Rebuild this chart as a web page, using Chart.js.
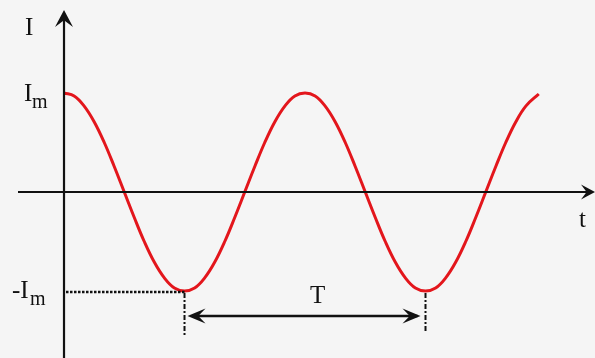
<!DOCTYPE html>
<html>
<head>
<meta charset="utf-8">
<script src="https://cdn.jsdelivr.net/npm/chart.js@4/dist/chart.umd.min.js"></script>
<style>
  html, body { margin: 0; padding: 0; background: #f5f5f5; }
  #wrap { width: 595px; height: 358px; }
</style>
</head>
<body>
<div id="wrap"><canvas id="c" width="595" height="358"></canvas></div>
<script>
// time in units of the period T
const tValues = [0, 0.042, 0.083, 0.125, 0.167, 0.208, 0.25, 0.292, 0.333, 0.375, 0.417, 0.458,
  0.5, 0.542, 0.583, 0.625, 0.667, 0.708, 0.75, 0.792, 0.833, 0.875, 0.917, 0.958,
  1, 1.042, 1.083, 1.125, 1.167, 1.208, 1.25, 1.292, 1.333, 1.375, 1.417, 1.458,
  1.5, 1.542, 1.583, 1.625, 1.667, 1.708, 1.75, 1.792, 1.833, 1.875, 1.917, 1.97];
// current in units of Im
const iValues = [1, 0.97, 0.87, 0.71, 0.5, 0.26, 0, -0.26, -0.5, -0.71, -0.87, -0.97,
  -1, -0.97, -0.87, -0.71, -0.5, -0.26, 0, 0.26, 0.5, 0.71, 0.87, 0.97,
  1, 0.97, 0.87, 0.71, 0.5, 0.26, 0, -0.26, -0.5, -0.71, -0.87, -0.97,
  -1, -0.97, -0.87, -0.71, -0.5, -0.26, 0, 0.26, 0.5, 0.71, 0.87, 0.99];
// markers: troughs used to show the period T
const troughA = 0.5;
const troughB = 1.5;
const ampLabels = ['I', 'm'];

const points = tValues.map((t, k) => ({ x: t, y: iValues[k] }));

function arrowHead(ctx, tipX, tipY, dirX, dirY, len, half) {
  const px = -dirY, py = dirX;
  ctx.beginPath();
  ctx.moveTo(tipX, tipY);
  ctx.lineTo(tipX - dirX * len + px * half, tipY - dirY * len + py * half);
  ctx.lineTo(tipX - dirX * len * 0.6, tipY - dirY * len * 0.6);
  ctx.lineTo(tipX - dirX * len - px * half, tipY - dirY * len - py * half);
  ctx.closePath();
  ctx.fill();
}

const decor = {
  id: 'decor',
  afterDatasetsDraw(chart) {
    const ctx = chart.ctx;
    const xs = chart.scales.x, ys = chart.scales.y;
    const x0 = xs.getPixelForValue(0);
    const y0 = ys.getPixelForValue(0);
    const yMin = ys.getPixelForValue(-1);
    const xa = xs.getPixelForValue(troughA);
    const xb = xs.getPixelForValue(troughB);
    ctx.save();
    ctx.strokeStyle = '#111';
    ctx.fillStyle = '#111';

    // axes
    ctx.lineWidth = 2.2;
    ctx.beginPath();
    ctx.moveTo(18, y0); ctx.lineTo(588, y0);
    ctx.moveTo(x0, 358); ctx.lineTo(x0, 18);
    ctx.stroke();
    arrowHead(ctx, 595, y0, 1, 0, 14, 7.5);
    arrowHead(ctx, x0, 10, 0, -1, 17, 9);

    // dotted level line at -Im
    ctx.lineWidth = 2.5;
    ctx.setLineDash([2.5, 1.5]);
    ctx.beginPath();
    ctx.moveTo(x0 + 2, yMin + 1); ctx.lineTo(xa, yMin + 1);
    ctx.stroke();

    // dash-dot verticals
    ctx.lineWidth = 2;
    ctx.setLineDash([5, 2, 2, 2]);
    ctx.beginPath();
    ctx.moveTo(xa, yMin + 2); ctx.lineTo(xa, 335);
    ctx.moveTo(xb, yMin + 2); ctx.lineTo(xb, 331);
    ctx.stroke();
    ctx.setLineDash([]);

    // period arrow
    const ay = 316;
    ctx.lineWidth = 2.5;
    ctx.beginPath();
    ctx.moveTo(xa + 8, ay); ctx.lineTo(xb - 8, ay);
    ctx.stroke();
    arrowHead(ctx, xa + 3, ay, -1, 0, 18, 7.5);
    arrowHead(ctx, xb - 5, ay, 1, 0, 18, 7.5);

    // labels
    ctx.textBaseline = 'alphabetic';
    ctx.textAlign = 'left';
    ctx.font = '25px "Liberation Serif", serif';
    ctx.fillText('I', 25, 35);
    ctx.fillText(ampLabels[0], 24, 101);
    ctx.fillText('-' + ampLabels[0], 12, 298);
    ctx.fillText('T', 310, 303);
    ctx.fillText('t', 579, 227);
    ctx.font = '20px "Liberation Serif", serif';
    ctx.fillText(ampLabels[1], 32, 108);
    ctx.fillText(ampLabels[1], 30, 305);
    ctx.restore();
  }
};

new Chart(document.getElementById('c'), {
  type: 'line',
  data: {
    datasets: [{
      data: points,
      borderColor: '#e3161c',
      borderWidth: 3,
      pointRadius: 0,
      tension: 0.4,
      fill: false
    }]
  },
  options: {
    responsive: false,
    animation: false,
    layout: { padding: 0 },
    plugins: { legend: { display: false }, tooltip: { enabled: false }, title: { display: false } },
    scales: {
      x: { type: 'linear', display: false, min: -0.2656, max: 2.2033 },
      y: { type: 'linear', display: false, min: -1.6768, max: 1.9394 }
    }
  },
  plugins: [decor]
});
</script>
</body>
</html>
